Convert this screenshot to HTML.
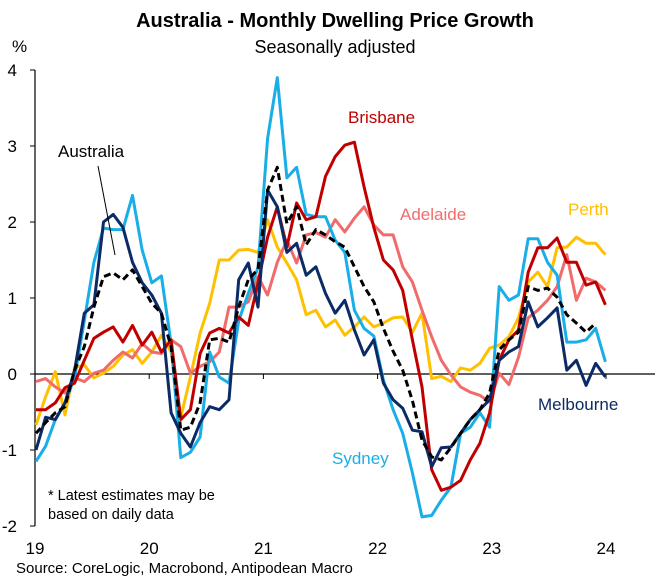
<!DOCTYPE html>
<html><head><meta charset="utf-8"><style>
body{margin:0;background:#fff;}
svg{display:block;font-family:"Liberation Sans",Arial,sans-serif;}
</style></head><body>
<svg id="chart" width="670" height="577" viewBox="0 0 670 577">
<text x="335" y="27" text-anchor="middle" font-size="20" font-weight="bold">Australia - Monthly Dwelling Price Growth</text>
<text x="335" y="53" text-anchor="middle" font-size="18">Seasonally adjusted</text>
<text x="12" y="52" font-size="17">%</text>
<g id="axes"></g>
<g id="series"></g>
<line x1="98" y1="166" x2="115" y2="255" stroke="#000" stroke-width="1"/>
<text x="58" y="157" font-size="17" fill="#000">Australia</text>
<text x="348" y="123" font-size="17" fill="#C00000">Brisbane</text>
<text x="400" y="220" font-size="17" fill="#F26B6B">Adelaide</text>
<text x="568" y="215" font-size="17" fill="#FFC000">Perth</text>
<text x="538" y="410" font-size="17" fill="#0B2A66">Melbourne</text>
<text x="332" y="464" font-size="17" fill="#1AAEE8">Sydney</text>
<text x="48" y="500" font-size="14.5">* Latest estimates may be</text>
<text x="48" y="519" font-size="14.5">based on daily data</text>
<text x="16" y="573" font-size="15">Source: CoreLogic, Macrobond, Antipodean Macro</text>
</svg>
<script>
const yTicks = [4,3,2,1,0,-1,-2];
const xTickLabels = ["19","20","21","22","23","24"];
const sydney = [-1.15,-0.95,-0.6,-0.38,-0.05,0.7,1.47,1.92,1.9,1.9,2.35,1.63,1.2,1.29,0.4,-1.1,-1.03,-0.83,0.29,-0.04,-0.12,0.7,1.06,1.4,3.1,3.9,2.58,2.72,2.1,2.07,2.07,1.76,1.6,0.84,0.6,0.5,-0.08,-0.47,-0.78,-1.3,-1.88,-1.86,-1.66,-1.49,-0.78,-0.7,-0.51,-0.7,1.15,0.97,1.04,1.78,1.78,1.47,1.3,0.42,0.42,0.45,0.6,0.16];
const melbourne = [-1.0,-0.57,-0.6,-0.38,0.05,0.8,0.91,2.0,2.1,1.93,1.47,1.2,1.04,0.8,-0.51,-0.78,-0.96,-0.64,-0.43,-0.47,-0.34,1.24,1.46,0.88,2.42,2.2,1.6,1.72,1.3,1.41,1.06,0.8,0.97,0.58,0.25,0.45,-0.12,-0.34,-0.45,-0.74,-0.76,-1.22,-0.97,-0.96,-0.78,-0.6,-0.47,-0.34,0.18,0.29,0.36,0.95,0.62,0.74,0.87,0.05,0.18,-0.15,0.14,-0.04];
const brisbane = [-0.47,-0.47,-0.38,-0.18,-0.12,0.18,0.47,0.55,0.62,0.42,0.64,0.38,0.55,0.29,0.45,-0.6,-0.47,0.27,0.54,0.6,0.54,0.75,0.64,1.2,1.8,2.2,1.67,2.25,2.03,2.07,2.6,2.86,3.01,3.05,2.46,1.93,1.5,1.37,1.1,0.45,-0.17,-1.26,-1.53,-1.49,-1.4,-1.13,-0.91,-0.51,0.18,0.45,0.58,1.34,1.66,1.66,1.79,1.47,1.47,1.17,1.21,0.91];
const adelaide = [-0.1,-0.06,-0.17,-0.25,-0.05,-0.1,0.01,0.05,0.18,0.29,0.21,0.4,0.29,0.27,0.45,0.36,0.01,0.1,0.16,0.29,0.88,0.88,0.95,1.28,1.04,1.47,1.76,1.46,1.83,1.86,1.8,2.03,1.87,2.05,2.2,1.96,1.83,1.83,1.41,1.21,0.84,0.49,0.18,-0.01,-0.17,-0.24,-0.28,-0.37,0.01,-0.14,0.22,0.74,0.84,0.97,1.15,1.57,0.97,1.26,1.21,1.1];
const perth = [-0.67,-0.3,0.03,-0.54,0.08,0.12,-0.05,0.01,0.1,0.25,0.32,0.14,0.29,0.51,0.29,-0.57,-0.04,0.54,0.93,1.5,1.5,1.63,1.64,1.6,2.03,1.67,1.46,1.24,0.78,0.84,0.62,0.71,0.51,0.62,0.75,0.62,0.67,0.74,0.75,0.55,0.8,-0.06,-0.03,-0.1,0.08,0.05,0.14,0.34,0.38,0.49,0.74,1.21,1.34,1.15,1.66,1.67,1.8,1.72,1.72,1.57];
const australia = [-0.78,-0.64,-0.51,-0.43,0.05,0.36,0.88,1.28,1.33,1.24,1.37,1.15,0.93,0.8,0.36,-0.74,-0.7,-0.38,0.45,0.47,0.42,0.88,1.24,1.38,2.42,2.72,1.98,2.2,1.7,1.9,1.83,1.74,1.67,1.41,1.15,0.95,0.6,0.3,0.05,-0.35,-0.87,-1.09,-1.13,-0.97,-0.78,-0.6,-0.47,-0.25,0.32,0.45,0.55,1.15,1.1,1.13,1.01,0.78,0.67,0.55,0.67];

const NS = "http://www.w3.org/2000/svg";
const X0 = 36, XSTEP = 9.65, Y0 = 374, YU = 76;
function xScale(i){ return X0 + i*XSTEP; }
function yScale(v){ return Y0 - v*YU; }
function yearX(k){ return 35 + k*114.2; }
function mk(tag, attrs, parent){ const e=document.createElementNS(NS,tag); for(const k in attrs) e.setAttribute(k,attrs[k]); parent.appendChild(e); return e; }

const axes = document.getElementById('axes');
const ya = mk('line',{x1:35,y1:yScale(4),x2:35,y2:yScale(-2),stroke:'#000','stroke-width':1.2},axes);


const xa = mk('line',{x1:35,y1:Y0,x2:655,y2:Y0,stroke:'#000','stroke-width':1.2},axes);


yTicks.forEach(v=>{
  const t = mk('line',{x1:30,y1:yScale(v),x2:35,y2:yScale(v),stroke:'#000','stroke-width':1},axes);
  
  
  const l = mk('text',{x:17,y:yScale(v)+6,'text-anchor':'end','font-size':17},axes);
  l.textContent = String(v);
  
  
});
xTickLabels.forEach((lab,k)=>{
  const x = yearX(k);
  const t = mk('line',{x1:x,y1:Y0,x2:x,y2:Y0+5,stroke:'#000','stroke-width':1},axes);
  
  
  const l = mk('text',{x:x,y:554,'text-anchor':'middle','font-size':17},axes);
  l.textContent = lab;
  
  
});

const sg = document.getElementById('series');
function drawLine(data, color, name, dash){
  const pts = data.map((v,i)=>xScale(i).toFixed(1)+','+yScale(v).toFixed(1)).join(' ');
  const attrs = {points:pts,fill:'none',stroke:color,'stroke-width':3,'stroke-linejoin':'round'};
  if(dash) attrs['stroke-dasharray']=dash;
  const p = mk('polyline',attrs,sg);
  
  
}
drawLine(perth,'#FFC000','line-perth');
drawLine(adelaide,'#F26B6B','line-adelaide');
drawLine(sydney,'#1AAEE8','line-sydney');
drawLine(brisbane,'#C00000','line-brisbane');
drawLine(melbourne,'#0B2A66','line-melbourne');
drawLine(australia,'#000000','line-australia','7,4');
</script>
</body></html>
